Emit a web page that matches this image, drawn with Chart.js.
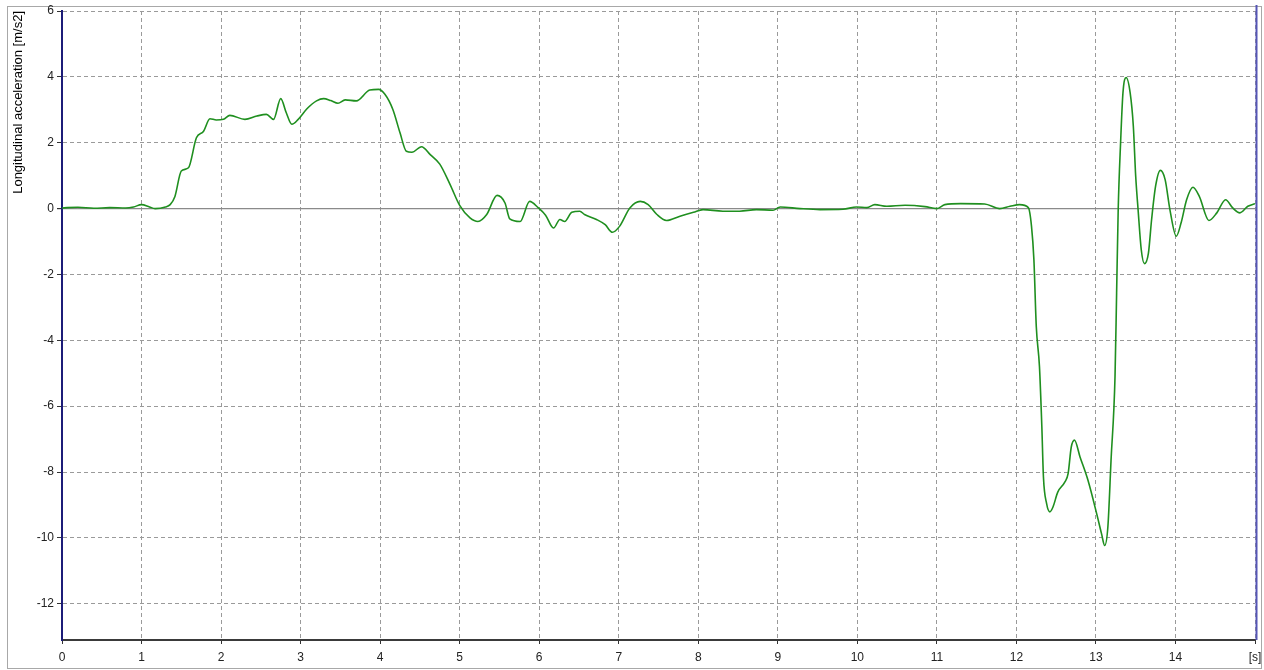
<!DOCTYPE html>
<html>
<head>
<meta charset="utf-8">
<script src="https://cdn.jsdelivr.net/npm/chart.js@4/dist/chart.umd.min.js"></script>
<style>
  html, body { margin: 0; padding: 0; background: #fff; }
  #wrap { position: relative; width: 1264px; height: 670px; }
</style>
</head>
<body>
<div id="wrap"><canvas id="chart" width="1264" height="670"></canvas></div>
<script>
// time [s] and longitudinal acceleration [m/s2]
const timeS = [
  0, 0.2, 0.4, 0.6, 0.8, 0.9, 1.0, 1.1, 1.17, 1.3, 1.36, 1.42, 1.5, 1.59, 1.69, 1.78, 1.86, 1.94,
  2.03, 2.11, 2.3, 2.45, 2.57, 2.66, 2.75, 2.82, 2.89, 2.97, 3.08, 3.2, 3.29, 3.38, 3.47, 3.56,
  3.7, 3.87, 3.98, 4.06, 4.16, 4.25, 4.33, 4.4, 4.52, 4.63, 4.75, 4.88, 5.0, 5.13, 5.23, 5.34,
  5.47, 5.57, 5.63, 5.76, 5.88, 5.99, 6.08, 6.18, 6.26, 6.32, 6.41, 6.51, 6.57, 6.72, 6.83, 6.92,
  7.01, 7.14, 7.27, 7.37, 7.48, 7.6, 7.77, 7.94, 8.06, 8.31, 8.52, 8.73, 8.94, 9.03, 9.28, 9.53,
  9.82, 9.99, 10.12, 10.22, 10.37, 10.6, 10.85, 11.0, 11.1, 11.3, 11.6, 11.79, 11.92, 12.04, 12.15,
  12.19, 12.22, 12.25, 12.29, 12.32, 12.34, 12.38, 12.42, 12.46, 12.52, 12.61, 12.65, 12.69, 12.73,
  12.8, 12.9, 13.01, 13.07, 13.11, 13.15, 13.19, 13.24, 13.26, 13.28, 13.31, 13.34, 13.38, 13.43,
  13.47, 13.5, 13.53, 13.57, 13.61, 13.66, 13.7, 13.75, 13.81, 13.87, 13.93, 14.01, 14.07, 14.14,
  14.22, 14.3, 14.42, 14.52, 14.63, 14.72, 14.81, 14.91, 15.0
];
const accel = [
  0.02, 0.04, 0.01, 0.03, 0.02, 0.05, 0.12, 0.05, 0.0, 0.05, 0.12, 0.37, 1.14, 1.24, 2.15, 2.35, 2.73, 2.69,
  2.71, 2.83, 2.71, 2.81, 2.86, 2.71, 3.34, 2.91, 2.56, 2.71, 3.03, 3.27, 3.34, 3.28, 3.2, 3.3,
  3.27, 3.6, 3.62, 3.47, 3.01, 2.3, 1.74, 1.71, 1.88, 1.64, 1.35, 0.73, 0.1, -0.28, -0.39, -0.18,
  0.4, 0.17, -0.31, -0.39, 0.22, 0.02, -0.2, -0.59, -0.33, -0.39, -0.11, -0.08, -0.18, -0.33, -0.49, -0.72,
  -0.54, 0.02, 0.22, 0.12, -0.18, -0.36, -0.23, -0.11, -0.03, -0.08, -0.08, -0.03, -0.05, 0.05, 0.0, -0.03,
  -0.02, 0.05, 0.03, 0.12, 0.07, 0.1, 0.06, 0.0, 0.12, 0.15, 0.14, 0.0, 0.07, 0.12, 0.03,
  -0.54, -1.55, -3.58, -4.8, -6.63, -8.15, -8.96, -9.21, -9.06, -8.61, -8.3, -8.05, -7.24, -7.03,
  -7.54, -8.25, -9.27, -9.87, -10.23, -9.67, -7.64, -5.1, -2.57, -0.03, 2.0, 3.52, 3.98, 3.52,
  2.51, 0.98, -0.03, -1.25, -1.67, -1.35, -0.33, 0.68, 1.16, 0.88, -0.03, -0.84, -0.44, 0.27,
  0.65, 0.37, -0.36, -0.13, 0.27, 0.02, -0.13, 0.07, 0.15
];
const xTicks = [0, 1, 2, 3, 4, 5, 6, 7, 8, 9, 10, 11, 12, 13, 14, 15];
const yTicks = [6, 4, 2, 0, -2, -4, -6, -8, -10, -12];
const xUnit = '[s]';
const yTitle = 'Longitudinal acceleration [m/s2]';

const points = timeS.map((t, i) => ({ x: t, y: accel[i] }));

// outer frame + right blue edge like the original tool
const framePlugin = {
  id: 'frame',
  beforeDraw(chart) {
    const ctx = chart.ctx;
    ctx.save();
    ctx.fillStyle = '#ffffff';
    ctx.fillRect(0, 0, chart.width, chart.height);
    ctx.strokeStyle = '#a8a8a8';
    ctx.lineWidth = 1;
    ctx.strokeRect(7.5, 6.5, chart.width - 10, chart.height - 8);
    ctx.restore();
  },
  afterDraw(chart) {
    const a = chart.chartArea;
    const ctx = chart.ctx;
    ctx.save();
    ctx.strokeStyle = '#5555b5';
    ctx.lineWidth = 2;
    ctx.beginPath();
    ctx.moveTo(a.right + 1.5, a.top - 6);
    ctx.lineTo(a.right + 1.5, a.bottom);
    ctx.stroke();
    ctx.restore();
  }
};

const tickFont = { family: 'Liberation Sans, Arial, sans-serif', size: 12 };

new Chart(document.getElementById('chart'), {
  type: 'line',
  data: {
    datasets: [{
      data: points,
      borderColor: '#1f8f1f',
      borderWidth: 1.6,
      pointRadius: 0,
      fill: false,
      cubicInterpolationMode: 'monotone'
    }]
  },
  options: {
    responsive: false,
    animation: false,
    layout: { padding: { left: 0, right: 9, top: 11, bottom: 0 } },
    plugins: { legend: { display: false }, tooltip: { enabled: false } },
    scales: {
      x: {
        type: 'linear',
        min: 0,
        max: 15,
        afterBuildTicks: (s) => { s.ticks = xTicks.map(v => ({ value: v })); },
        afterFit: (s) => { s.height = 30; s.paddingRight = 0; s.paddingLeft = 0; },
        ticks: {
          color: '#222',
          font: tickFont,
          padding: 6,
          maxRotation: 0,
          autoSkip: false,
          callback: (v) => v === 15 ? xUnit : v
        },
        grid: {
          color: '#9a9a9a',
          lineWidth: 1,
          tickLength: 4,
          tickColor: '#333',
          tickBorderDash: []
        },
        border: { display: true, color: '#3a3a3a', width: 2, dash: [4, 3] }
      },
      y: {
        type: 'linear',
        min: -13.1,
        max: 6,
        afterBuildTicks: (s) => { s.ticks = yTicks.map(v => ({ value: v })); },
        afterFit: (s) => { s.width = 62; },
        title: {
          display: true,
          text: yTitle,
          align: 'end',
          color: '#000',
          font: { family: 'Liberation Sans, Arial, sans-serif', size: 13 },
          padding: { top: 11, bottom: 0 }
        },
        ticks: { color: '#222', font: tickFont, padding: 3, autoSkip: false },
        grid: {
          color: (c) => c.tick && c.tick.value === 0 ? '#8a8a8a' : '#9a9a9a',
          lineWidth: (c) => c.tick && c.tick.value === 0 ? 1.2 : 1,
          tickLength: 5,
          tickColor: '#333',
          tickBorderDash: []
        },
        border: {
          display: true,
          color: '#1c1c78',
          width: 2,
          dash: (c) => c.tick && c.tick.value === 0 ? [] : [4, 3]
        }
      }
    }
  },
  plugins: [framePlugin]
});
</script>
</body>
</html>
